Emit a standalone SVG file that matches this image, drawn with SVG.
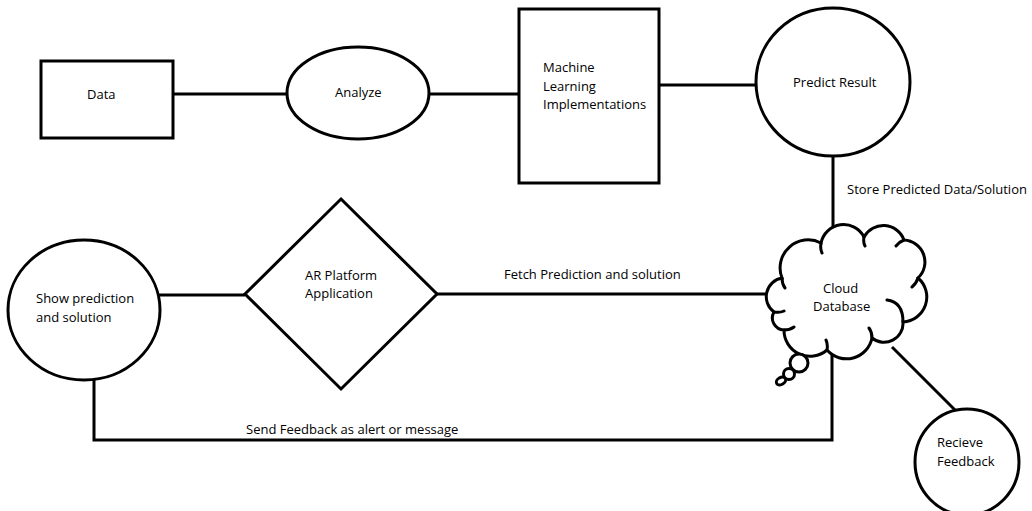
<svg xmlns="http://www.w3.org/2000/svg" width="1032" height="511" viewBox="0 0 1032 511">
<style>
.s{fill:#fff;stroke:#000;stroke-width:3}
.c{fill:none;stroke:#000;stroke-width:3}
.h{fill:none;stroke:#000;stroke-width:3;stroke-linecap:round}
text{font-family:"Open Sans","Liberation Sans",sans-serif;font-size:13px;fill:#000}
</style>
<rect width="1032" height="511" fill="#fff"/>
<g id="connectors">
<line class="c" x1="173" y1="94" x2="287" y2="94"/>
<line class="c" x1="429" y1="94" x2="519" y2="94"/>
<line class="c" x1="659" y1="85" x2="757" y2="85"/>
<line class="c" x1="833" y1="155" x2="833" y2="234"/>
<line class="c" x1="437" y1="294" x2="767" y2="294"/>
<line class="c" x1="158" y1="295" x2="245" y2="295"/>
<polyline class="c" points="94,379 94,440 832,440 832,355"/>
<line class="c" x1="892" y1="347" x2="955" y2="410"/>
<text x="847" y="194">Store Predicted Data/Solution</text>
<text x="504" y="279">Fetch Prediction and solution</text>
<text x="246" y="434">Send Feedback as alert or message</text>
</g>
<g id="data">
<rect class="s" x="41" y="61" width="132" height="77"/>
<text x="87" y="99">Data</text>
</g>
<g id="analyze">
<ellipse class="s" cx="358" cy="93" rx="71" ry="46"/>
<text x="335" y="97">Analyze</text>
</g>
<g id="ml">
<rect class="s" x="519" y="9" width="140" height="174"/>
<text x="543" y="72">Machine</text>
<text x="543" y="91">Learning</text>
<text x="543" y="109">Implementations</text>
</g>
<g id="predict">
<ellipse class="s" cx="833" cy="82" rx="77" ry="74"/>
<text x="793" y="87">Predict Result</text>
</g>
<g id="cloud">
<path class="s" d="M774,312 A19,19 0 0,1 782,278 A28,28 0 0,1 821,243 A23,23 0 0,1 864,237 A22,22 0 0,1 904,240 A22,22 0 0,1 918,278 A25,25 0 0,1 903,322 A19,19 0 0,1 872,338 A26,26 0 0,1 827,350 A26,26 0 0,1 784,330 A12,12 0 0,1 774,312 Z"/>
<path class="h" d="M782,278 Q782,284 785,288 M821,243 Q820,249 822,253 M864,237 Q863,242 865,246 M904,240 Q899,242 896,246 M918,278 Q916,284 912,287 M887,300 Q903,302 903,322 M872,338 Q872,332 869,328 M827,350 Q828,344 826,340 M784,330 Q790,330 794,327 M774,312 Q780,313 784,311"/>
<circle class="s" cx="799" cy="363" r="9"/>
<circle class="s" cx="789" cy="374" r="5.5"/>
<ellipse class="s" cx="781" cy="381" rx="5" ry="3.5" transform="rotate(-30 781 381)"/>
<text x="823" y="293">Cloud</text>
<text x="813" y="311">Database</text>
</g>
<g id="ar">
<polygon class="s" points="341,199 437,294 341,389 245,294"/>
<text x="305" y="280">AR Platform</text>
<text x="305" y="298">Application</text>
</g>
<g id="show">
<ellipse class="s" cx="84" cy="310" rx="76" ry="70"/>
<text x="36" y="303">Show prediction</text>
<text x="36" y="322">and solution</text>
</g>
<g id="feedback">
<ellipse class="s" cx="967" cy="462" rx="52" ry="53"/>
<text x="937" y="447">Recieve</text>
<text x="937" y="466">Feedback</text>
</g>
</svg>
